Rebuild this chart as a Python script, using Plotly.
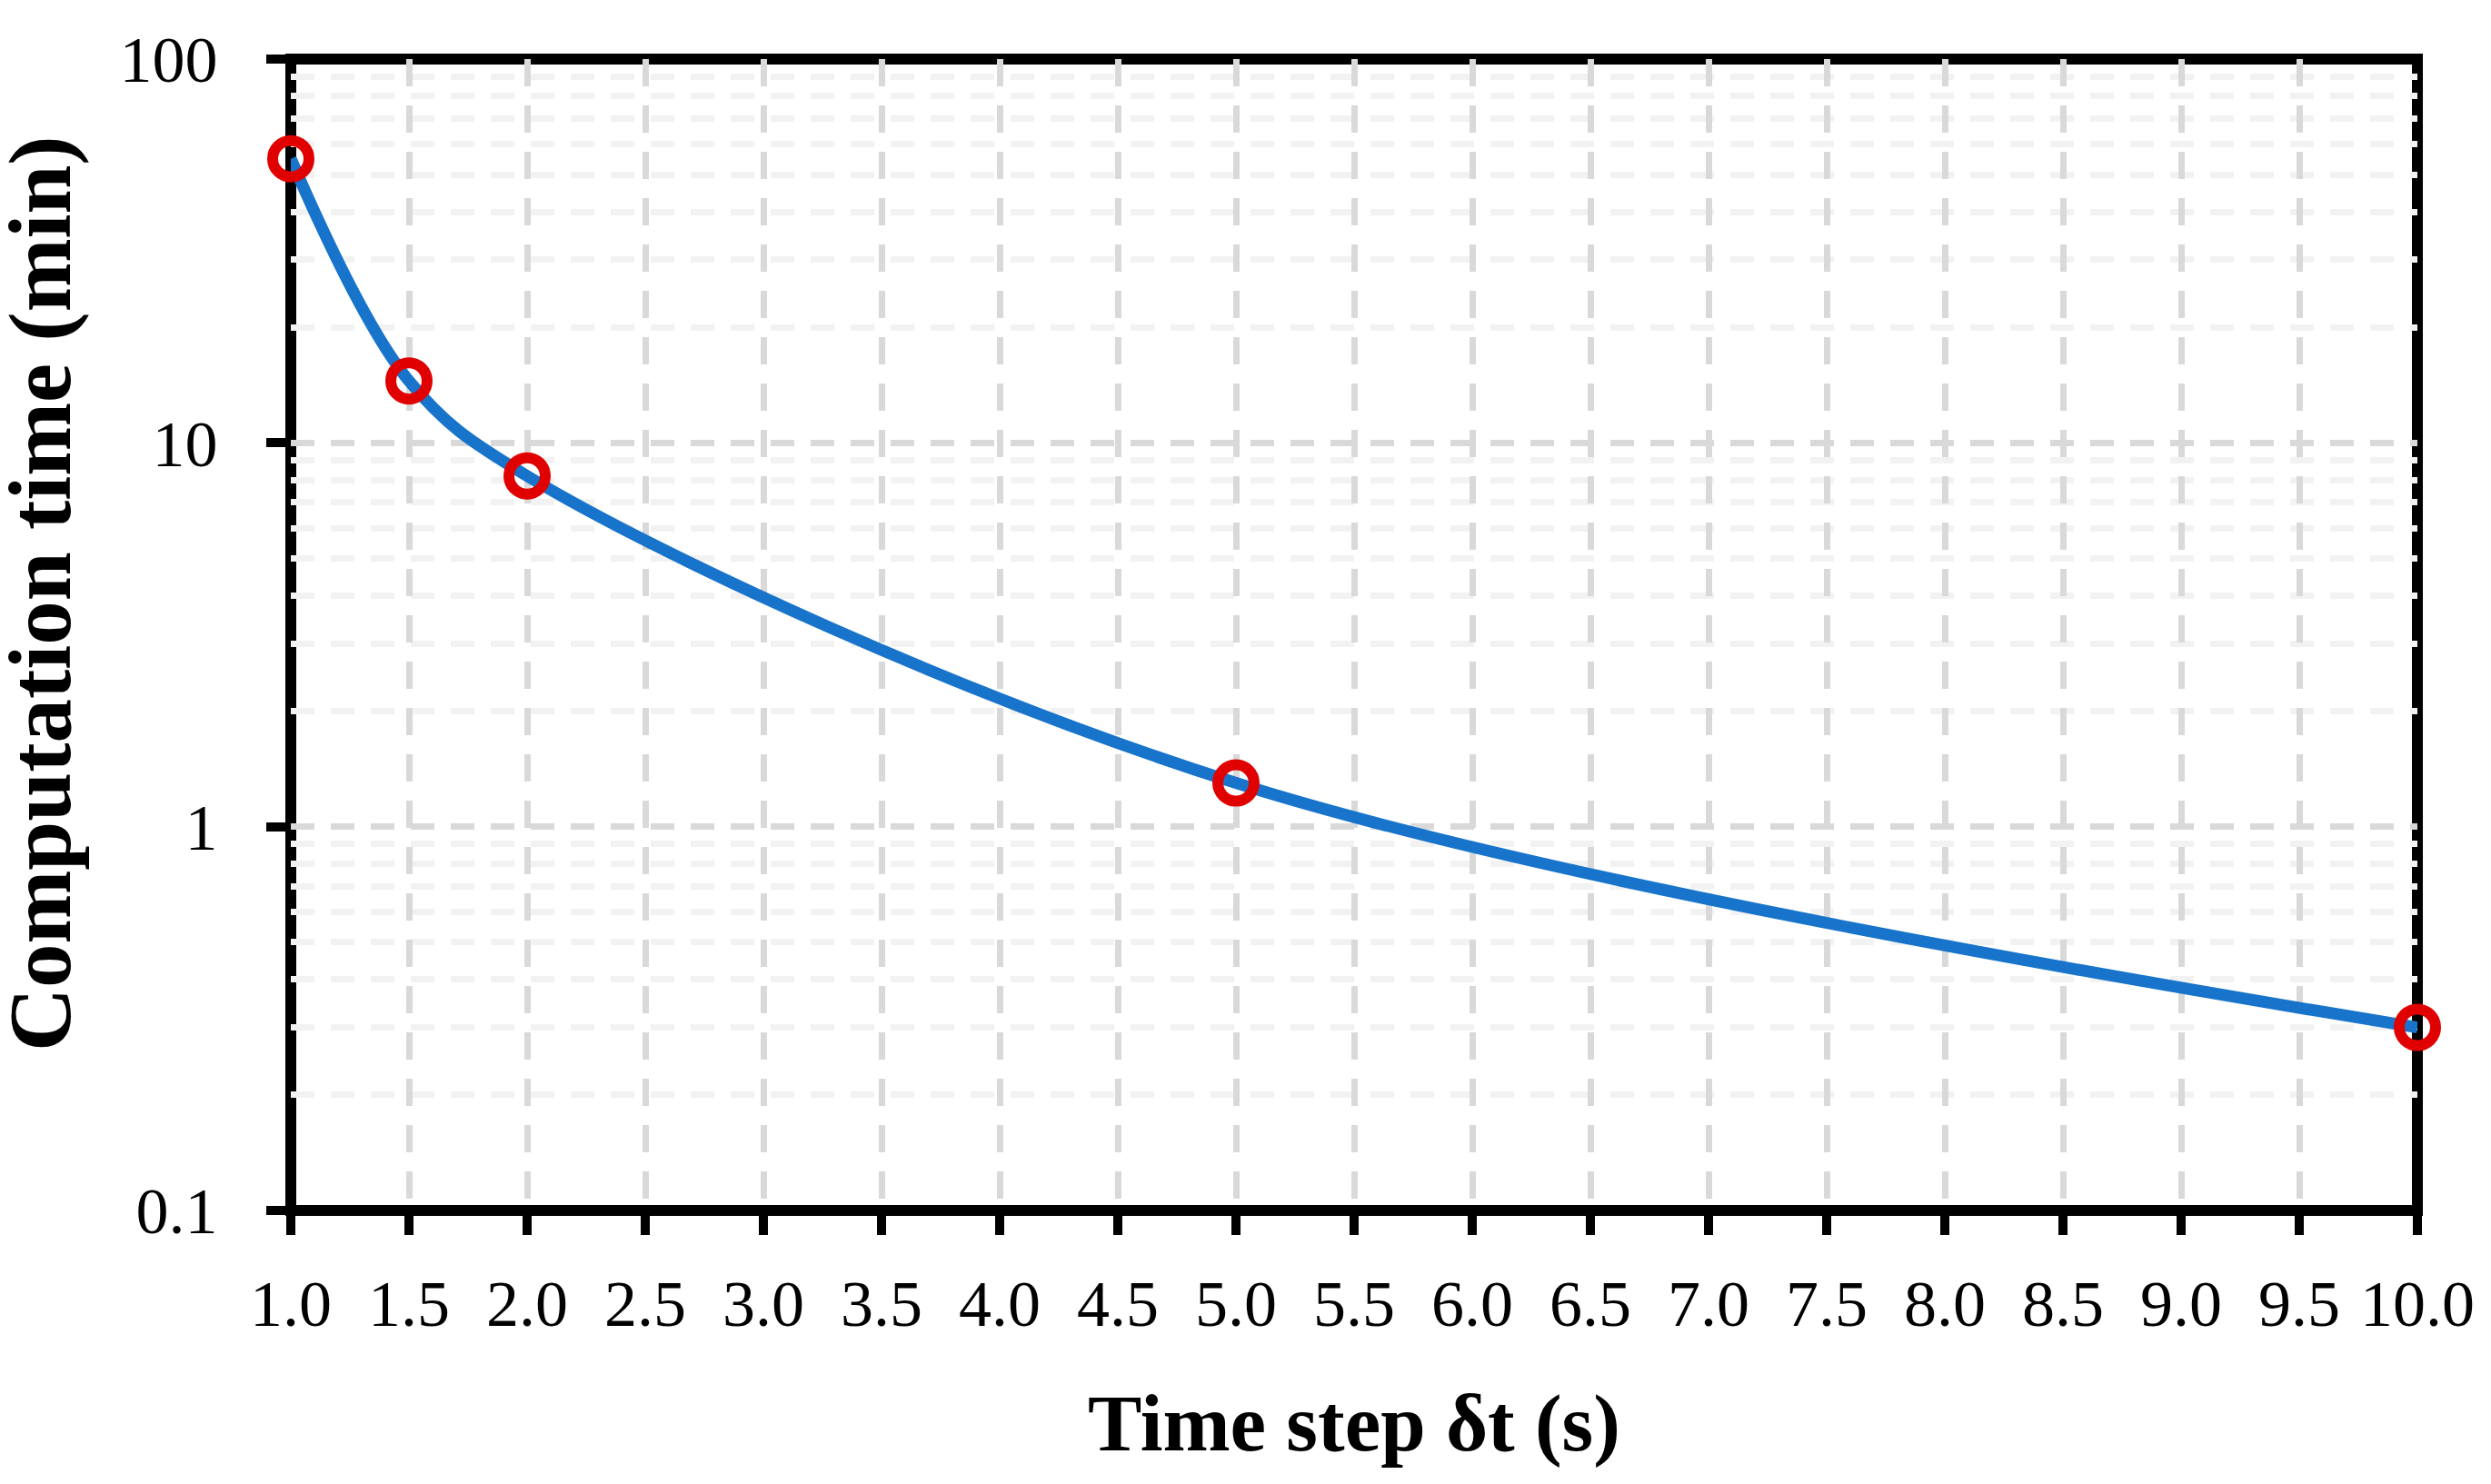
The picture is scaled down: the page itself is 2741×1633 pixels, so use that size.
import plotly.graph_objects as go

# ---- data ----
time_step = [1.0, 1.5, 2.0, 5.0, 10.0]          # s
comp_time = [55.0, 14.5, 8.2, 1.3, 0.3]         # min

x_tick_vals = [1.0, 1.5, 2.0, 2.5, 3.0, 3.5, 4.0, 4.5, 5.0, 5.5,
               6.0, 6.5, 7.0, 7.5, 8.0, 8.5, 9.0, 9.5, 10.0]
x_tick_text = ["1.0", "1.5", "2.0", "2.5", "3.0", "3.5", "4.0", "4.5", "5.0", "5.5",
               "6.0", "6.5", "7.0", "7.5", "8.0", "8.5", "9.0", "9.5", "10.0"]
y_tick_vals = [0.1, 1, 10, 100]
y_tick_text = ["0.1", "1", "10", "100"]
y_minor_vals = [0.2, 0.3, 0.4, 0.5, 0.6, 0.7, 0.8, 0.9,
                2, 3, 4, 5, 6, 7, 8, 9,
                20, 30, 40, 50, 60, 70, 80, 90]

x_title = "Time step δt (s)"
y_title = "Computation time (min)"

# ---- layout geometry (page pixels; the page body has an 8 px margin) ----
PAGE_OFF = 8
W, H = 2741 - PAGE_OFF, 1633 - PAGE_OFF
PL, PR, PT, PB = 320, 2660, 65, 1332          # plot area in page pixels
L = PL - PAGE_OFF
T = PT - PAGE_OFF
R = 2741 - PR
B = 1633 - PB
plot_w = PR - PL
plot_h = PB - PT


def px_x(page_x):
    return (page_x - PL) / plot_w


def px_y(page_y):
    return (PB - page_y) / plot_h


x_range = [1.0, 10.0]
y_range = [-1.0, 2.0]

FONT = "Liberation Serif"
TICK_SIZE = 72
FRAME_W = 12

fig = go.Figure()
fig.add_trace(go.Scatter(
    x=time_step, y=comp_time,
    mode="lines+markers",
    line=dict(color="#1874cb", width=13, shape="spline", smoothing=1.0),
    marker=dict(symbol="circle-open", size=40, color="#e00000",
                line=dict(width=12, color="#e00000")),
    cliponaxis=False,
    showlegend=False,
))

fig.update_layout(
    width=W, height=H,
    margin=dict(l=L, r=R, t=T, b=B, pad=0),
    paper_bgcolor="white", plot_bgcolor="white",
    font=dict(family=FONT, color="black", size=TICK_SIZE),
    xaxis=dict(
        range=x_range, tickmode="array", tickvals=x_tick_vals, ticktext=x_tick_text,
        showline=False,
        ticks="outside", ticklen=26, tickwidth=10, tickcolor="black",
        showgrid=True, gridcolor="#d9d9d9", gridwidth=7, griddash="30px,21px",
        zeroline=False, ticklabelstandoff=14,
        tickfont=dict(family=FONT, size=TICK_SIZE, color="black"),
    ),
    yaxis=dict(
        type="log", range=y_range, tickmode="array", tickvals=y_tick_vals, ticktext=y_tick_text,
        showline=False,
        ticks="outside", ticklen=26, tickwidth=10, tickcolor="black",
        showgrid=True, gridcolor="#d9d9d9", gridwidth=7, griddash="26px,18px",
        minor=dict(tickmode="array", tickvals=y_minor_vals, showgrid=True,
                   gridcolor="#f2f2f2", gridwidth=7, ticks=""),
        zeroline=False, ticklabelstandoff=39,
        tickfont=dict(family=FONT, size=TICK_SIZE, color="black"),
    ),
    xaxis2=dict(
        overlaying="x", anchor="y", side="bottom", range=x_range,
        tickmode="array", tickvals=x_tick_vals, showticklabels=False,
        ticks="inside", ticklen=26, tickwidth=10, tickcolor="black",
        showgrid=False, showline=False, zeroline=False,
    ),
    yaxis2=dict(
        overlaying="y", anchor="x", side="left", type="log", range=y_range,
        tickmode="array", tickvals=y_tick_vals, showticklabels=False,
        ticks="inside", ticklen=26, tickwidth=10, tickcolor="black",
        showgrid=False, showline=False, zeroline=False,
    ),
    shapes=[
        dict(type="rect", xref="paper", yref="paper", x0=0, x1=1, y0=0, y1=1,
             line=dict(color="black", width=FRAME_W), fillcolor="rgba(0,0,0,0)",
             layer="between"),
    ],
    annotations=[
        dict(text="<b>%s</b>" % x_title, xref="paper", yref="paper",
             x=px_x(1490), y=px_y(1566),
             xanchor="center", yanchor="middle", showarrow=False,
             font=dict(family=FONT, size=89, color="black")),
        dict(text="<b>%s</b>" % y_title, xref="paper", yref="paper",
             x=px_x(44), y=px_y(653), textangle=-90,
             xanchor="center", yanchor="middle", showarrow=False,
             font=dict(family=FONT, size=97, color="black")),
    ],
)

fig.write_html("out.html")
